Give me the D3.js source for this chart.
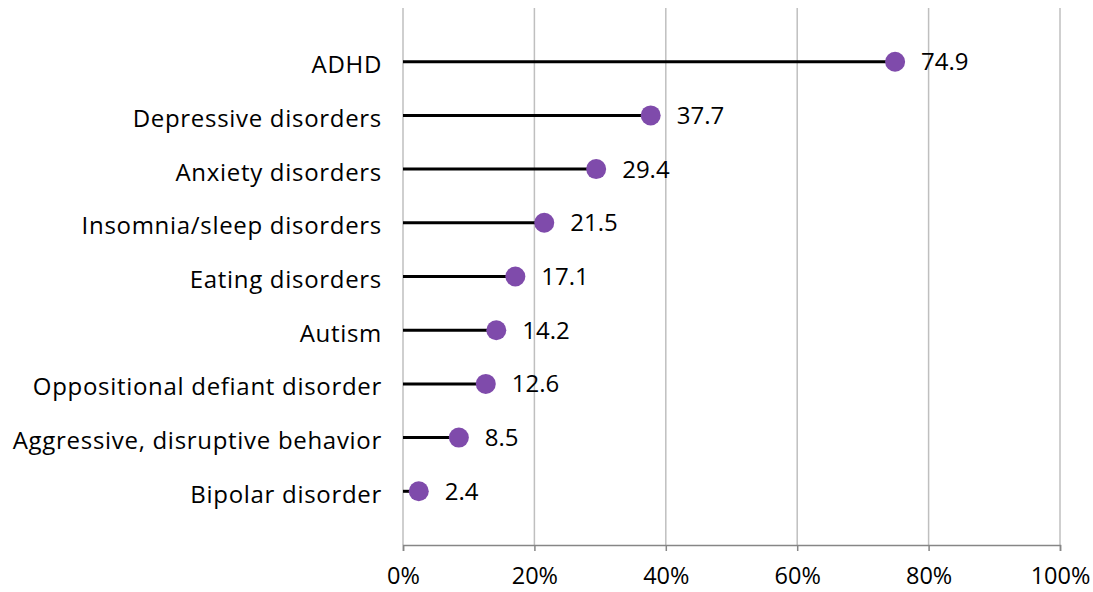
<!DOCTYPE html>
<html>
<head>
<meta charset="utf-8">
<script src="https://cdn.jsdelivr.net/npm/d3@7"></script>
<style>
  body { margin: 0; background: #fff; }
  text { font-family: "Open Sans", sans-serif; fill: #000; }
</style>
</head>
<body>
<svg width="1093" height="592"></svg>
<script>
// data, top to bottom
var categories = ["ADHD", "Depressive disorders", "Anxiety disorders", "Insomnia/sleep disorders",
  "Eating disorders", "Autism", "Oppositional defiant disorder", "Aggressive, disruptive behavior",
  "Bipolar disorder"];
var values = [74.9, 37.7, 29.4, 21.5, 17.1, 14.2, 12.6, 8.5, 2.4];
var xTicks = [0, 20, 40, 60, 80, 100];

var svg = d3.select("svg");
var plotLeft = 403, plotRight = 1060, plotTop = 8, plotBottom = 545;

var x = d3.scaleLinear().domain([0, 100]).range([plotLeft, plotRight]);
// positions 9..1 from the top, Excel-style scatter axis 0..10
var y = d3.scaleLinear().domain([0, 10]).range([plotBottom, plotTop]);

var rows = categories.map(function(c, i) {
  return {name: c, value: values[i], pos: categories.length - i};
});

// gridlines
svg.append("g").selectAll("line")
  .data(xTicks)
  .enter().append("line")
  .attr("x1", function(d) { return x(d); })
  .attr("x2", function(d) { return x(d); })
  .attr("y1", plotTop)
  .attr("y2", plotBottom)
  .style("stroke", "#bfbfbf")
  .style("stroke-width", 1.5);

// x axis
var xAxis = d3.axisBottom(x)
  .tickValues(xTicks)
  .tickSize(6)
  .tickPadding(16)
  .tickFormat(function(d) { return d + "%"; });

var ax = svg.append("g")
  .attr("transform", "translate(0," + plotBottom + ")")
  .call(xAxis);
ax.select(".domain").attr("stroke", "#868686").attr("stroke-width", 1.5);
ax.selectAll(".tick line").attr("stroke", "#868686").attr("stroke-width", 1.5);
ax.selectAll(".tick text")
  .style("font-family", "'Open Sans', sans-serif")
  .style("font-size", "23.5px")
  .attr("fill", "#000");

// stems
svg.append("g").selectAll("line")
  .data(rows)
  .enter().append("line")
  .attr("x1", x(0))
  .attr("x2", function(d) { return x(d.value); })
  .attr("y1", function(d) { return y(d.pos); })
  .attr("y2", function(d) { return y(d.pos); })
  .style("stroke", "#000")
  .style("stroke-width", 3);

// dots
svg.append("g").selectAll("circle")
  .data(rows)
  .enter().append("circle")
  .attr("cx", function(d) { return x(d.value); })
  .attr("cy", function(d) { return y(d.pos); })
  .attr("r", 10)
  .style("fill", "#7f4bab");

// value labels
svg.append("g").selectAll("text")
  .data(rows)
  .enter().append("text")
  .attr("x", function(d) { return x(d.value) + 26; })
  .attr("y", function(d) { return y(d.pos); })
  .attr("dy", "0.35em")
  .style("font-size", "24px")
  .text(function(d) { return d.value.toFixed(1); });

// category labels
svg.append("g").selectAll("text")
  .data(rows)
  .enter().append("text")
  .attr("x", 382)
  .attr("y", function(d) { return y(d.pos) + 3; })
  .attr("dy", "0.35em")
  .attr("text-anchor", "end")
  .style("font-size", "24px")
  .style("letter-spacing", "0.7px")
  .text(function(d) { return d.name; });
</script>
</body>
</html>
